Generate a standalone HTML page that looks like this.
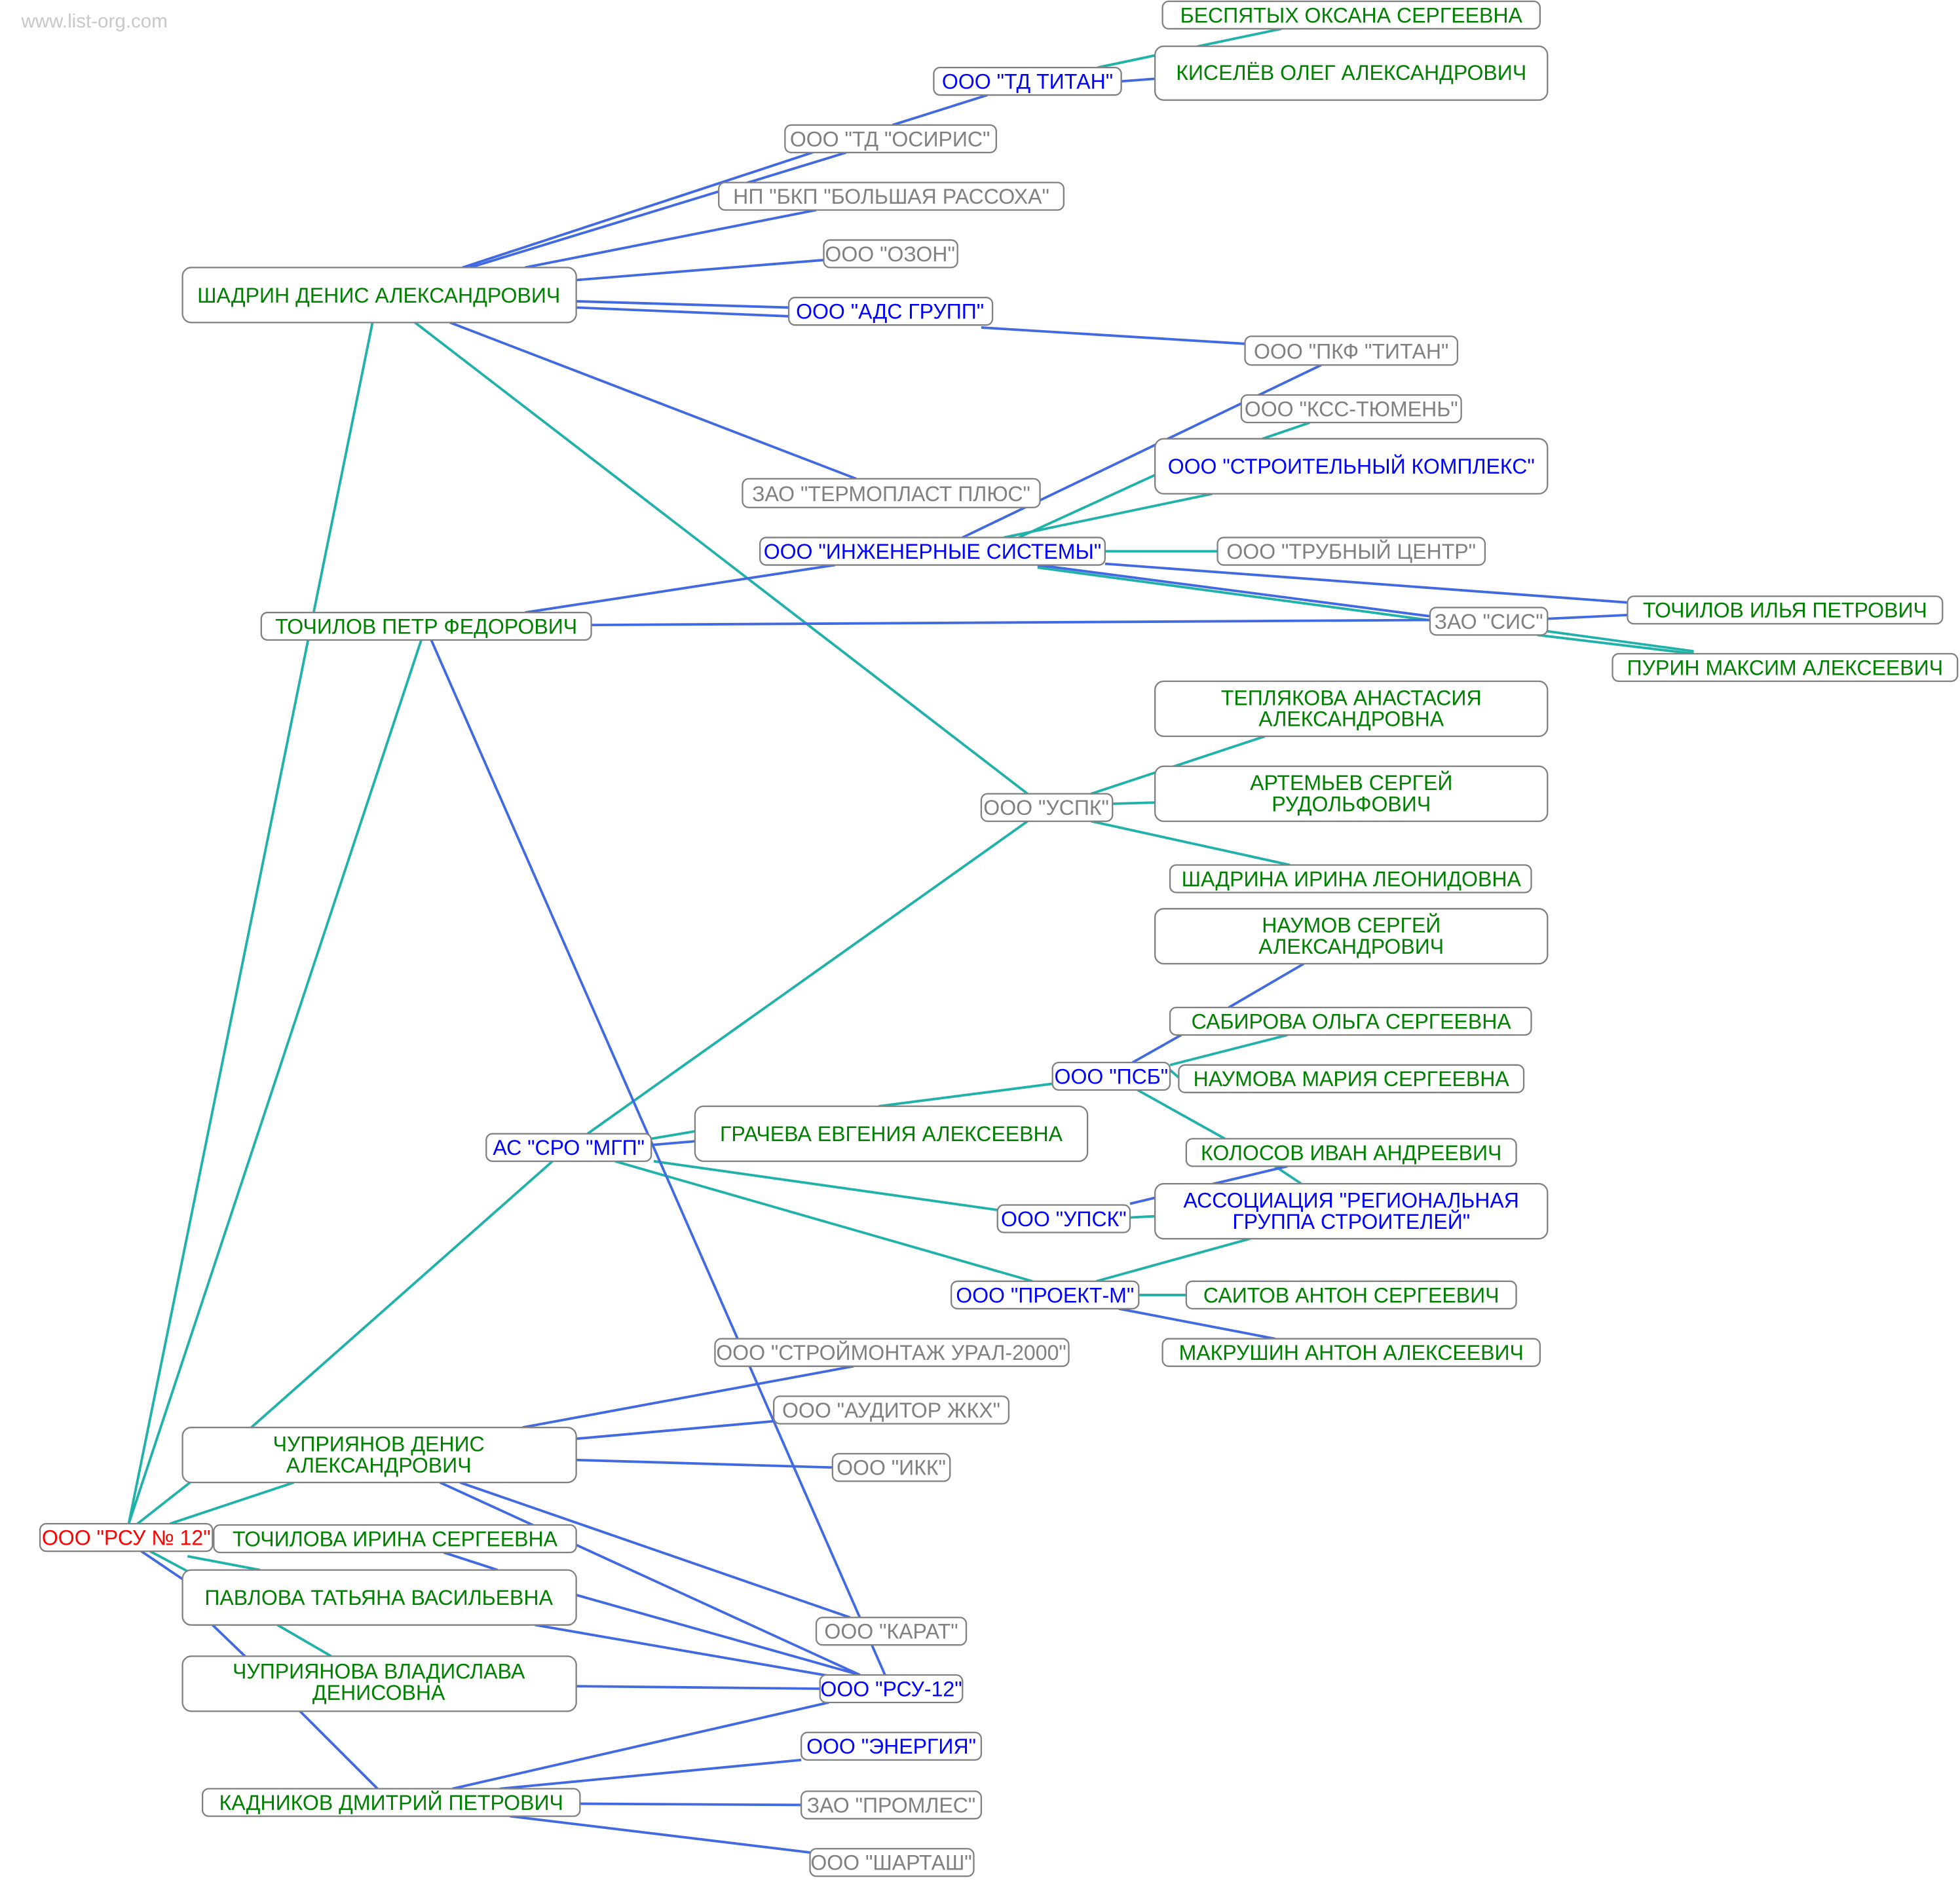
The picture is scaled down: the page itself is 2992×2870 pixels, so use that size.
<!DOCTYPE html>
<html><head><meta charset="utf-8"><style>
html,body{margin:0;padding:0;background:#fff;}
svg{display:block;}
text{font-family:"Liberation Sans","DejaVu Sans",sans-serif;font-size:16.8px;}
</style></head><body>
<svg width="2992" height="2870" viewBox="0 0 1568 1504" xmlns="http://www.w3.org/2000/svg">
<text x="17" y="22" fill="#c8c8c8" style="font-size:15.5px">www.list-org.com</text>
<g stroke-width="2" fill="none">
<g stroke="#20b2aa">
<line x1="878" y1="54" x2="1025" y2="23"/>
<line x1="332" y1="258" x2="822" y2="635"/>
<line x1="298" y1="258" x2="103" y2="1219"/>
<line x1="1048" y1="338" x2="1010" y2="351"/>
<line x1="924" y1="380" x2="815" y2="430"/>
<line x1="970" y1="395" x2="803" y2="430"/>
<line x1="884" y1="441" x2="974" y2="441"/>
<line x1="830" y1="454" x2="1150" y2="497"/>
<line x1="1230" y1="508" x2="1355" y2="523"/>
<line x1="1238" y1="505" x2="1355" y2="521"/>
<line x1="337" y1="512" x2="103" y2="1219"/>
<line x1="873" y1="635" x2="1012" y2="589"/>
<line x1="890" y1="643" x2="924" y2="642"/>
<line x1="873" y1="657" x2="1032" y2="692"/>
<line x1="822" y1="657" x2="470" y2="907"/>
<line x1="936" y1="852" x2="1030" y2="828"/>
<line x1="936" y1="856" x2="943" y2="862"/>
<line x1="910" y1="872" x2="980" y2="911"/>
<line x1="842" y1="867" x2="703" y2="885"/>
<line x1="521" y1="911" x2="556" y2="905"/>
<line x1="523" y1="929" x2="798" y2="968"/>
<line x1="492" y1="929" x2="826" y2="1025"/>
<line x1="442" y1="929" x2="201" y2="1142"/>
<line x1="1020" y1="933" x2="1041" y2="947"/>
<line x1="904" y1="974" x2="924" y2="973"/>
<line x1="877" y1="1025" x2="1000" y2="991"/>
<line x1="911" y1="1036" x2="949" y2="1036"/>
<line x1="152" y1="1186" x2="110" y2="1219"/>
<line x1="235" y1="1186" x2="136" y2="1219"/>
<line x1="120" y1="1241" x2="150" y2="1257"/>
<line x1="150" y1="1245" x2="208" y2="1256"/>
<line x1="222" y1="1300" x2="265" y2="1325"/>
</g>
<g stroke="#4169e1">
<line x1="897" y1="65" x2="924" y2="63"/>
<line x1="714" y1="100" x2="790" y2="76"/>
<line x1="370" y1="214" x2="650" y2="122"/>
<line x1="376" y1="214" x2="677" y2="122"/>
<line x1="420" y1="214" x2="653" y2="168"/>
<line x1="461" y1="224" x2="659" y2="208"/>
<line x1="461" y1="241" x2="631" y2="246"/>
<line x1="461" y1="246" x2="631" y2="253"/>
<line x1="785" y1="262" x2="996" y2="275"/>
<line x1="360" y1="258" x2="685" y2="383"/>
<line x1="1057" y1="292" x2="770" y2="430"/>
<line x1="884" y1="451" x2="1302" y2="482"/>
<line x1="830" y1="452" x2="1144" y2="493"/>
<line x1="1238" y1="495" x2="1302" y2="492"/>
<line x1="420" y1="490" x2="668" y2="452"/>
<line x1="473" y1="500" x2="1144" y2="496"/>
<line x1="345" y1="512" x2="708" y2="1340"/>
<line x1="1043" y1="771" x2="983" y2="806"/>
<line x1="945" y1="828" x2="906" y2="850"/>
<line x1="521" y1="916" x2="556" y2="913"/>
<line x1="904" y1="963" x2="1030" y2="933"/>
<line x1="895" y1="1047" x2="1020" y2="1071"/>
<line x1="418" y1="1142" x2="683" y2="1093"/>
<line x1="461" y1="1151" x2="619" y2="1137"/>
<line x1="461" y1="1168" x2="666" y2="1174"/>
<line x1="368" y1="1186" x2="680" y2="1294"/>
<line x1="352" y1="1186" x2="688" y2="1340"/>
<line x1="355" y1="1242" x2="398" y2="1256"/>
<line x1="461" y1="1276" x2="688" y2="1340"/>
<line x1="428" y1="1300" x2="688" y2="1345"/>
<line x1="113" y1="1241" x2="147" y2="1264"/>
<line x1="170" y1="1300" x2="196" y2="1325"/>
<line x1="461" y1="1349" x2="656" y2="1351"/>
<line x1="240" y1="1369" x2="302" y2="1431"/>
<line x1="362" y1="1431" x2="663" y2="1362"/>
<line x1="400" y1="1431" x2="641" y2="1408"/>
<line x1="464" y1="1443" x2="641" y2="1444"/>
<line x1="408" y1="1453" x2="648" y2="1482"/>
</g>
</g>
<g stroke="#808080" stroke-width="1.2" fill="#fff">
<rect x="146" y="214" width="315" height="44" rx="7"/>
<rect x="209" y="490" width="264" height="22" rx="5"/>
<rect x="747" y="54" width="150" height="22" rx="5"/>
<rect x="930" y="1" width="302" height="22" rx="5"/>
<rect x="924" y="37" width="314" height="43" rx="7"/>
<rect x="628" y="100" width="169" height="22" rx="5"/>
<rect x="575" y="146" width="276" height="22" rx="5"/>
<rect x="659" y="192" width="107" height="22" rx="5"/>
<rect x="631" y="238" width="163" height="22" rx="5"/>
<rect x="996" y="269" width="170" height="23" rx="5"/>
<rect x="993" y="316" width="176" height="22" rx="5"/>
<rect x="924" y="351" width="314" height="44" rx="7"/>
<rect x="594" y="383" width="238" height="23" rx="5"/>
<rect x="608" y="430" width="276" height="22" rx="5"/>
<rect x="974" y="430" width="214" height="22" rx="5"/>
<rect x="1302" y="477" width="252" height="22" rx="5"/>
<rect x="1144" y="486" width="94" height="22" rx="5"/>
<rect x="1290" y="523" width="276" height="22" rx="5"/>
<rect x="924" y="545" width="314" height="44" rx="7"/>
<rect x="924" y="613" width="314" height="44" rx="7"/>
<rect x="785" y="635" width="105" height="22" rx="5"/>
<rect x="936" y="692" width="289" height="22" rx="5"/>
<rect x="924" y="727" width="314" height="44" rx="7"/>
<rect x="936" y="806" width="289" height="22" rx="5"/>
<rect x="842" y="850" width="94" height="22" rx="5"/>
<rect x="943" y="852" width="276" height="22" rx="5"/>
<rect x="389" y="907" width="132" height="22" rx="5"/>
<rect x="556" y="885" width="314" height="44" rx="7"/>
<rect x="949" y="911" width="264" height="22" rx="5"/>
<rect x="798" y="964" width="106" height="22" rx="5"/>
<rect x="924" y="947" width="314" height="44" rx="7"/>
<rect x="761" y="1025" width="150" height="22" rx="5"/>
<rect x="949" y="1025" width="264" height="22" rx="5"/>
<rect x="930" y="1071" width="302" height="22" rx="5"/>
<rect x="572" y="1071" width="283" height="22" rx="5"/>
<rect x="619" y="1117" width="188" height="22" rx="5"/>
<rect x="666" y="1163" width="94" height="22" rx="5"/>
<rect x="146" y="1142" width="315" height="44" rx="7"/>
<rect x="32" y="1219" width="138" height="22" rx="5"/>
<rect x="171" y="1220" width="290" height="22" rx="5"/>
<rect x="146" y="1256" width="315" height="44" rx="7"/>
<rect x="653" y="1294" width="120" height="22" rx="5"/>
<rect x="656" y="1340" width="114" height="22" rx="5"/>
<rect x="146" y="1325" width="315" height="44" rx="7"/>
<rect x="641" y="1386" width="144" height="22" rx="5"/>
<rect x="162" y="1431" width="302" height="22" rx="5"/>
<rect x="641" y="1433" width="144" height="22" rx="5"/>
<rect x="648" y="1479" width="131" height="22" rx="5"/>
</g>
<g text-anchor="middle">
<g fill="#008000">
<text x="303" y="242">ШАДРИН ДЕНИС АЛЕКСАНДРОВИЧ</text>
<text x="341" y="507">ТОЧИЛОВ ПЕТР ФЕДОРОВИЧ</text>
<text x="1081" y="18">БЕСПЯТЫХ ОКСАНА СЕРГЕЕВНА</text>
<text x="1081" y="64">КИСЕЛЁВ ОЛЕГ АЛЕКСАНДРОВИЧ</text>
<text x="1428" y="494">ТОЧИЛОВ ИЛЬЯ ПЕТРОВИЧ</text>
<text x="1428" y="540">ПУРИН МАКСИМ АЛЕКСЕЕВИЧ</text>
<text x="1081" y="564">ТЕПЛЯКОВА АНАСТАСИЯ</text>
<text x="1081" y="581">АЛЕКСАНДРОВНА</text>
<text x="1081" y="632">АРТЕМЬЕВ СЕРГЕЙ</text>
<text x="1081" y="649">РУДОЛЬФОВИЧ</text>
<text x="1081" y="709">ШАДРИНА ИРИНА ЛЕОНИДОВНА</text>
<text x="1081" y="746">НАУМОВ СЕРГЕЙ</text>
<text x="1081" y="763">АЛЕКСАНДРОВИЧ</text>
<text x="1081" y="823">САБИРОВА ОЛЬГА СЕРГЕЕВНА</text>
<text x="1081" y="869">НАУМОВА МАРИЯ СЕРГЕЕВНА</text>
<text x="713" y="913">ГРАЧЕВА ЕВГЕНИЯ АЛЕКСЕЕВНА</text>
<text x="1081" y="928">КОЛОСОВ ИВАН АНДРЕЕВИЧ</text>
<text x="1081" y="1042">САИТОВ АНТОН СЕРГЕЕВИЧ</text>
<text x="1081" y="1088">МАКРУШИН АНТОН АЛЕКСЕЕВИЧ</text>
<text x="303" y="1161">ЧУПРИЯНОВ ДЕНИС</text>
<text x="303" y="1178">АЛЕКСАНДРОВИЧ</text>
<text x="316" y="1237">ТОЧИЛОВА ИРИНА СЕРГЕЕВНА</text>
<text x="303" y="1284">ПАВЛОВА ТАТЬЯНА ВАСИЛЬЕВНА</text>
<text x="303" y="1343">ЧУПРИЯНОВА ВЛАДИСЛАВА</text>
<text x="303" y="1360">ДЕНИСОВНА</text>
<text x="313" y="1448">КАДНИКОВ ДМИТРИЙ ПЕТРОВИЧ</text>
</g>
<g fill="#0000ff">
<text x="822" y="71">ООО "ТД ТИТАН"</text>
<text x="712" y="255">ООО "АДС ГРУПП"</text>
<text x="1081" y="379">ООО "СТРОИТЕЛЬНЫЙ КОМПЛЕКС"</text>
<text x="746" y="447">ООО "ИНЖЕНЕРНЫЕ СИСТЕМЫ"</text>
<text x="889" y="867">ООО "ПСБ"</text>
<text x="455" y="924">АС "СРО "МГП"</text>
<text x="851" y="981">ООО "УПСК"</text>
<text x="1081" y="966">АССОЦИАЦИЯ "РЕГИОНАЛЬНАЯ</text>
<text x="1081" y="983">ГРУППА СТРОИТЕЛЕЙ"</text>
<text x="836" y="1042">ООО "ПРОЕКТ-М"</text>
<text x="713" y="1357">ООО "РСУ-12"</text>
<text x="713" y="1403">ООО "ЭНЕРГИЯ"</text>
</g>
<g fill="#808080">
<text x="712" y="117">ООО "ТД "ОСИРИС"</text>
<text x="713" y="163">НП "БКП "БОЛЬШАЯ РАССОХА"</text>
<text x="712" y="209">ООО "ОЗОН"</text>
<text x="1081" y="287">ООО "ПКФ "ТИТАН"</text>
<text x="1081" y="333">ООО "КСС-ТЮМЕНЬ"</text>
<text x="713" y="401">ЗАО "ТЕРМОПЛАСТ ПЛЮС"</text>
<text x="1081" y="447">ООО "ТРУБНЫЙ ЦЕНТР"</text>
<text x="1191" y="503">ЗАО "СИС"</text>
<text x="837" y="652">ООО "УСПК"</text>
<text x="713" y="1088">ООО "СТРОЙМОНТАЖ УРАЛ-2000"</text>
<text x="713" y="1134">ООО "АУДИТОР ЖКХ"</text>
<text x="713" y="1180">ООО "ИКК"</text>
<text x="713" y="1311">ООО "КАРАТ"</text>
<text x="713" y="1450">ЗАО "ПРОМЛЕС"</text>
<text x="713" y="1496">ООО "ШАРТАШ"</text>
</g>
<text x="101" y="1236" fill="#ff0000">ООО "РСУ № 12"</text>
</g>
</svg>
</body></html>
